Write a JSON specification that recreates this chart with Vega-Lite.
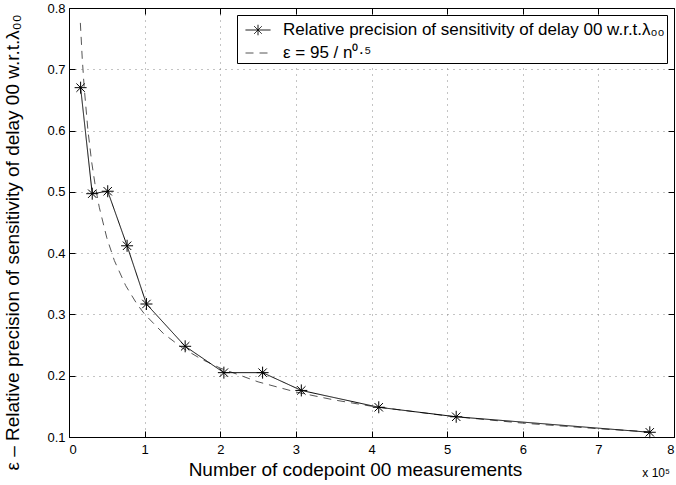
{
  "$schema": "https://vega.github.io/schema/vega-lite/v6.json",
  "width": 605,
  "height": 429,
  "autosize": {"type": "none"},
  "padding": {"left": 69, "top": 8, "right": 2, "bottom": 48},
  "background": "white",
  "datasets": {
    "meas": [
      {"x": 0.1536, "y": 0.670, "series": "Relative precision of sensitivity of delay 00 w.r.t.λ₀₀"},
      {"x": 0.3072, "y": 0.497, "series": "Relative precision of sensitivity of delay 00 w.r.t.λ₀₀"},
      {"x": 0.512, "y": 0.501, "series": "Relative precision of sensitivity of delay 00 w.r.t.λ₀₀"},
      {"x": 0.768, "y": 0.412, "series": "Relative precision of sensitivity of delay 00 w.r.t.λ₀₀"},
      {"x": 1.024, "y": 0.317, "series": "Relative precision of sensitivity of delay 00 w.r.t.λ₀₀"},
      {"x": 1.536, "y": 0.248, "series": "Relative precision of sensitivity of delay 00 w.r.t.λ₀₀"},
      {"x": 2.048, "y": 0.205, "series": "Relative precision of sensitivity of delay 00 w.r.t.λ₀₀"},
      {"x": 2.56, "y": 0.205, "series": "Relative precision of sensitivity of delay 00 w.r.t.λ₀₀"},
      {"x": 3.072, "y": 0.176, "series": "Relative precision of sensitivity of delay 00 w.r.t.λ₀₀"},
      {"x": 4.096, "y": 0.1485, "series": "Relative precision of sensitivity of delay 00 w.r.t.λ₀₀"},
      {"x": 5.12, "y": 0.133, "series": "Relative precision of sensitivity of delay 00 w.r.t.λ₀₀"},
      {"x": 7.68, "y": 0.1077, "series": "Relative precision of sensitivity of delay 00 w.r.t.λ₀₀"}
    ],
    "fit": [
      {"x": 0.15, "y": 0.7757, "series": "ε = 95 / n⁰·⁵"},
      {"x": 0.175, "y": 0.7182, "series": "ε = 95 / n⁰·⁵"},
      {"x": 0.2, "y": 0.6718, "series": "ε = 95 / n⁰·⁵"},
      {"x": 0.25, "y": 0.6008, "series": "ε = 95 / n⁰·⁵"},
      {"x": 0.3, "y": 0.5485, "series": "ε = 95 / n⁰·⁵"},
      {"x": 0.35, "y": 0.5078, "series": "ε = 95 / n⁰·⁵"},
      {"x": 0.4, "y": 0.4750, "series": "ε = 95 / n⁰·⁵"},
      {"x": 0.5, "y": 0.4249, "series": "ε = 95 / n⁰·⁵"},
      {"x": 0.6, "y": 0.3878, "series": "ε = 95 / n⁰·⁵"},
      {"x": 0.75, "y": 0.3469, "series": "ε = 95 / n⁰·⁵"},
      {"x": 0.9, "y": 0.3167, "series": "ε = 95 / n⁰·⁵"},
      {"x": 1.0, "y": 0.3004, "series": "ε = 95 / n⁰·⁵"},
      {"x": 1.25, "y": 0.2687, "series": "ε = 95 / n⁰·⁵"},
      {"x": 1.5, "y": 0.2453, "series": "ε = 95 / n⁰·⁵"},
      {"x": 1.75, "y": 0.2271, "series": "ε = 95 / n⁰·⁵"},
      {"x": 2.0, "y": 0.2124, "series": "ε = 95 / n⁰·⁵"},
      {"x": 2.5, "y": 0.1900, "series": "ε = 95 / n⁰·⁵"},
      {"x": 3.0, "y": 0.1734, "series": "ε = 95 / n⁰·⁵"},
      {"x": 3.5, "y": 0.1606, "series": "ε = 95 / n⁰·⁵"},
      {"x": 4.0, "y": 0.1502, "series": "ε = 95 / n⁰·⁵"},
      {"x": 5.0, "y": 0.1344, "series": "ε = 95 / n⁰·⁵"},
      {"x": 6.0, "y": 0.1226, "series": "ε = 95 / n⁰·⁵"},
      {"x": 7.0, "y": 0.1135, "series": "ε = 95 / n⁰·⁵"},
      {"x": 7.68, "y": 0.1084, "series": "ε = 95 / n⁰·⁵"}
    ]
  },
  "config": {
    "font": "Liberation Sans",
    "view": {"stroke": "#000", "strokeWidth": 1},
    "axis": {
      "domainColor": "#000",
      "tickColor": "#000",
      "tickSize": -6,
      "labelFont": "Liberation Sans",
      "labelFontSize": 13,
      "labelColor": "#000",
      "titleFont": "Liberation Sans",
      "titleFontWeight": "normal",
      "titleColor": "#000",
      "gridColor": "#888",
      "gridDash": [1, 5],
      "gridOpacity": 1,
      "gridWidth": 1
    },
    "legend": {
      "labelFont": "Liberation Sans",
      "labelFontSize": 17,
      "labelColor": "#000",
      "labelLimit": 600
    }
  },
  "resolve": {"axis": {"x": "independent", "y": "independent"}},
  "layer": [
    {
      "data": {"name": "fit"},
      "mark": {"type": "line", "strokeWidth": 1},
      "encoding": {
        "x": {
          "field": "x", "type": "quantitative",
          "scale": {"domain": [0, 8], "nice": false, "zero": false},
          "axis": {
            "orient": "bottom", "values": [0, 1, 2, 3, 4, 5, 6, 7, 8], "format": "d",
            "title": "Number of codepoint 00 measurements",
            "titleFontSize": 19, "labelPadding": 12, "titlePadding": 4,
            "titleX": 286,
            "grid": true
          }
        },
        "y": {
          "field": "y", "type": "quantitative",
          "scale": {"domain": [0.1, 0.8], "nice": false, "zero": false},
          "axis": {
            "orient": "left", "values": [0.1, 0.2, 0.3, 0.4, 0.5, 0.6, 0.7, 0.8], "format": ".1f",
            "title": "ε – Relative precision of sensitivity of delay 00 w.r.t.λ₀₀",
            "titleFontSize": 19, "labelPadding": 10,
            "titleX": -51, "titleY": 234, "titleBaseline": "alphabetic",
            "grid": true
          }
        },
        "color": {
          "field": "series", "type": "nominal",
          "scale": {
            "domain": ["Relative precision of sensitivity of delay 00 w.r.t.λ₀₀", "ε = 95 / n⁰·⁵"],
            "range": ["#000000", "#555555"]
          },
          "legend": {
            "title": null,
            "orient": "top-right",
            "offset": 7,
            "strokeColor": "#000",
            "fillColor": "white",
            "padding": 2,
            "rowPadding": 2,
            "symbolSize": 625,
            "symbolOffset": 6,
            "symbolStrokeWidth": 1,
            "labelOffset": 12,
            "encode": {
              "symbols": {
                "update": {
                  "shape": {"signal": "indexof(datum.label, 'Relative') === 0 ? 'M-1,0H1M0,-0.42V0.42M-0.3,-0.3L0.3,0.3M-0.3,0.3L0.3,-0.3' : 'M-1,0H1'"},
                  "fill": {"value": "transparent"}
                }
              }
            }
          }
        },
        "strokeDash": {
          "field": "series", "type": "nominal",
          "scale": {
            "domain": ["Relative precision of sensitivity of delay 00 w.r.t.λ₀₀", "ε = 95 / n⁰·⁵"],
            "range": [[1, 0], [8, 6]]
          },
          "legend": null
        }
      }
    },
    {
      "data": {"name": "meas"},
      "mark": {"type": "line", "strokeWidth": 1},
      "encoding": {
        "x": {"field": "x", "type": "quantitative", "axis": null},
        "y": {"field": "y", "type": "quantitative", "axis": null},
        "color": {"field": "series", "type": "nominal"},
        "strokeDash": {"field": "series", "type": "nominal"}
      }
    },
    {
      "data": {"name": "meas"},
      "mark": {
        "type": "point",
        "shape": "M-1,0H1M0,-1V1M-0.7,-0.7L0.7,0.7M-0.7,0.7L0.7,-0.7",
        "size": 144,
        "stroke": "#000",
        "strokeWidth": 1,
        "filled": false,
        "opacity": 1
      },
      "encoding": {
        "x": {"field": "x", "type": "quantitative", "axis": null},
        "y": {"field": "y", "type": "quantitative", "axis": null}
      }
    },
    {
      "data": {"values": [{}]},
      "mark": {"type": "text", "align": "right", "baseline": "alphabetic", "dx": -4, "dy": 40, "fontSize": 12, "font": "Liberation Sans", "color": "#000"},
      "encoding": {
        "x": {"datum": 8, "type": "quantitative", "axis": null},
        "y": {"datum": 0.1, "type": "quantitative", "axis": null},
        "text": {"value": "x 10⁵"}
      }
    },
    {
      "data": {"name": "fit"},
      "mark": {"type": "line", "opacity": 0},
      "encoding": {
        "x": {
          "field": "x", "type": "quantitative",
          "axis": {"orient": "top", "values": [0, 1, 2, 3, 4, 5, 6, 7, 8], "labels": false, "title": null, "grid": false}
        },
        "y": {
          "field": "y", "type": "quantitative",
          "axis": {"orient": "right", "values": [0.1, 0.2, 0.3, 0.4, 0.5, 0.6, 0.7, 0.8], "labels": false, "title": null, "grid": false}
        }
      }
    }
  ]
}
